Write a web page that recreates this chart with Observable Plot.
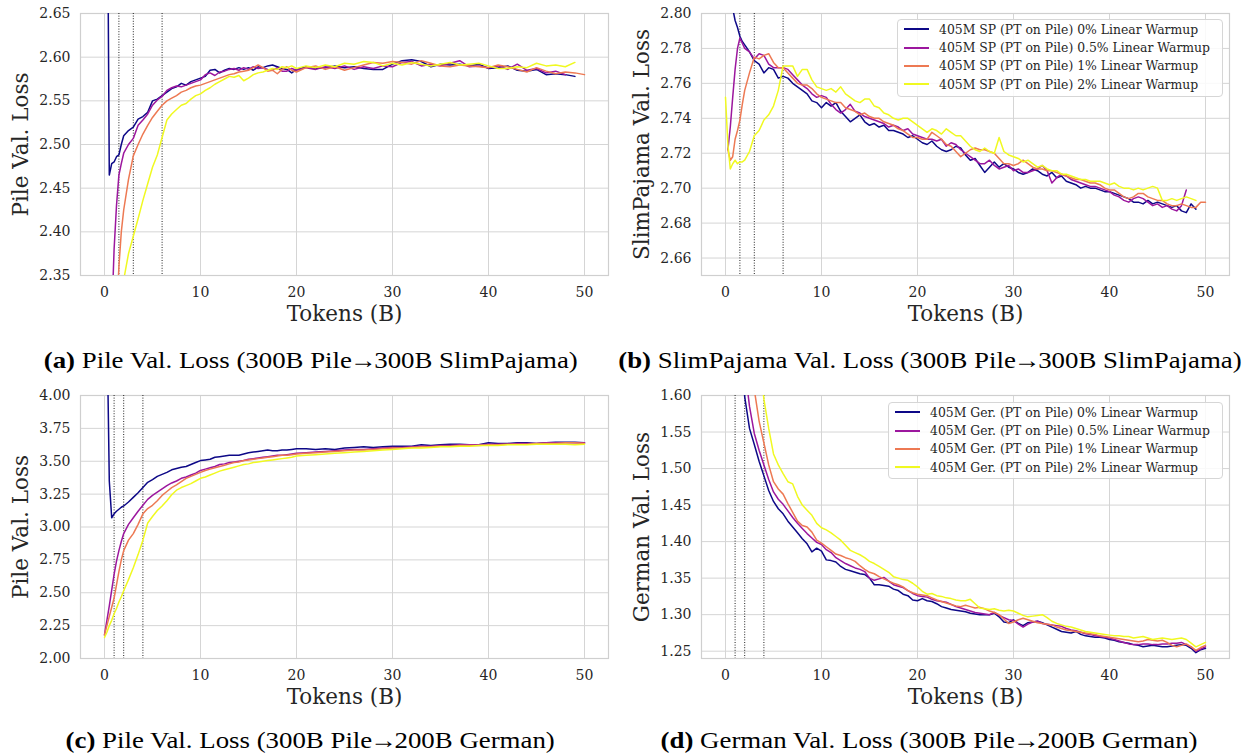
<!DOCTYPE html>
<html>
<head>
<meta charset="utf-8">
<script src="https://cdn.jsdelivr.net/npm/d3@7"></script>
<script src="https://cdn.jsdelivr.net/npm/@observablehq/plot@0.6"></script>
<style>
  html, body { margin: 0; padding: 0; background: #fff; }
  body { width: 1242px; height: 756px; position: relative; overflow: hidden; }
  .panel { position: absolute; }
  .cap { position: absolute; width: 621px; text-align: center; font-family: "Liberation Serif", "Times New Roman", serif; font-size: 23.5px; line-height: 25px; color: #000; white-space: nowrap; }
  .cap .inner { display: inline-block; transform-origin: 50% 50%; }
  .cap .arr { display: inline-block; margin: 0 -2px; }
  .legend { position: absolute; box-sizing: border-box; border: 1px solid #d6d6d6; border-radius: 4px; background: rgba(255,255,255,0.85); font-family: "DejaVu Serif", serif; font-size: 12.4px; color: #262626; padding-top: 0px; }
  .legend .row { display: flex; align-items: center; height: 18.4px; white-space: nowrap; }
  .legend .sw { display: inline-block; width: 25px; height: 0; border-top: 2px solid; margin-left: 6px; margin-right: 10px; }
</style>
</head>
<body>
<div id="pa" class="panel" style="left:0px; top:0px"></div>
<div id="pb" class="panel" style="left:621px; top:0px"></div>
<div id="pc" class="panel" style="left:0px; top:382px"></div>
<div id="pd" class="panel" style="left:621px; top:382px"></div>
<div class="cap" style="left:0px; top:348px"><span class="inner"><b>(a)</b> Pile Val. Loss (300B Pile<span class="arr">→</span>300B SlimPajama)</span></div>
<div class="cap" style="left:619px; top:348px"><span class="inner"><b>(b)</b> SlimPajama Val. Loss (300B Pile<span class="arr">→</span>300B SlimPajama)</span></div>
<div class="cap" style="left:0px; top:728px"><span class="inner"><b>(c)</b> Pile Val. Loss (300B Pile<span class="arr">→</span>200B German)</span></div>
<div class="cap" style="left:619px; top:728px"><span class="inner"><b>(d)</b> German Val. Loss (300B Pile<span class="arr">→</span>200B German)</span></div>
<div id="legB" class="legend" style="left:897px; top:19px; width:326px; height:78px"></div>
<div id="legD" class="legend" style="left:888px; top:402px; width:335px; height:77px"></div>
<script>
// ---------- shared ----------
const xTicks = [0, 10, 20, 30, 40, 50];
const colors = ["#0d0887", "#9c179e", "#ed7953", "#f0f921"];
const warmups = ["0%", "0.5%", "1%", "2%"];
const spNames = ["405M SP (PT on Pile) 0% Linear Warmup", "405M SP (PT on Pile) 0.5% Linear Warmup", "405M SP (PT on Pile) 1% Linear Warmup", "405M SP (PT on Pile) 2% Linear Warmup"];
const gerNames = ["405M Ger. (PT on Pile) 0% Linear Warmup", "405M Ger. (PT on Pile) 0.5% Linear Warmup", "405M Ger. (PT on Pile) 1% Linear Warmup", "405M Ger. (PT on Pile) 2% Linear Warmup"];
const warmupEndsSP = [1.5, 3, 6];
const warmupEndsGer = [1, 2, 4];

// token grids (B)
const gridCoarse = [0,0.25,0.5,0.75,1,1.25,1.5,1.75,2,
  2.5,3,3.5,4,4.5,5,5.5,6,6.5,7,
  7.5,8,8.5,9,9.5,10,10.5,11,11.5,12,
  12.5,13,13.5,14,14.5,15,15.5,16,16.5,17,
  17.5,18,18.5,19,19.5,20,
  21,22,23,24,25,26,27,28,29,30,
  31,32,33,34,35,36,37,38,39,40,
  41,42,43,44,45,46,47,48,49,50];
const gridFine = [0,0.25,0.5,0.75,1,1.25,1.5,1.75,2,
  2.5,3,3.5,4,4.5,5,5.5,6,6.5,7,
  7.5,8,8.5,9,9.5,10,10.5,11,11.5,12,
  12.5,13,13.5,14,14.5,15,15.5,16,16.5,17,
  17.5,18,18.5,19,19.5,20,20.5,21,21.5,22,
  22.5,23,23.5,24,24.5,25,25.5,26,26.5,27,
  27.5,28,28.5,29,29.5,30,30.5,31,31.5,32,
  32.5,33,33.5,34,34.5,35,35.5,36,36.5,37,
  37.5,38,38.5,39,39.5,40,40.5,41,41.5,42,
  42.5,43,43.5,44,44.5,45,45.5,46,46.5,47,
  47.5,48,48.5,49,49.5,50];

// ---------- (a) Pile val loss, SlimPajama continual ----------
const aTicks = [2.35, 2.40, 2.45, 2.50, 2.55, 2.60, 2.65];
const aW0 = [null,2.90,2.465,2.478,2.480,2.486,2.488,2.500,2.510,
  2.516,2.520,2.529,2.532,2.537,2.550,2.552,2.556,2.560,2.564,
  2.566,2.570,2.568,2.572,2.574,2.576,2.578,2.585,2.586,2.582,
  2.585,2.587,2.586,2.588,2.586,2.588,2.585,2.589,2.588,2.590,
  2.591,2.589,2.587,2.586,2.582,2.586,
  2.589,2.587,2.588,2.590,2.588,2.589,2.587,2.586,2.586,2.592,
  2.596,2.597,2.595,2.589,2.592,2.591,2.592,2.590,2.592,2.587,
  2.588,2.590,2.585,2.584,2.586,2.580,2.581,2.580,2.578,null];
const aW05 = [null,null,null,2.30,2.38,2.43,2.465,2.478,2.490,
  2.500,2.507,2.522,2.528,2.535,2.545,2.551,2.555,2.562,2.565,
  2.567,2.566,2.568,2.570,2.572,2.574,2.580,2.582,2.579,2.583,
  2.584,2.586,2.587,2.585,2.588,2.586,2.589,2.587,2.588,2.586,
  2.585,2.588,2.584,2.584,2.587,2.585,
  2.588,2.586,2.589,2.587,2.590,2.586,2.589,2.587,2.590,2.589,
  2.594,2.595,2.590,2.592,2.590,2.593,2.596,2.589,2.590,2.588,
  2.590,2.586,2.592,2.585,2.587,2.582,2.584,2.580,null,null];
const aW1 = [null,null,null,null,null,2.30,2.36,2.40,2.425,
  2.460,2.487,2.500,2.512,2.522,2.531,2.538,2.545,2.550,2.553,
  2.556,2.560,2.562,2.565,2.567,2.568,2.570,2.572,2.574,2.576,
  2.578,2.580,2.581,2.583,2.584,2.585,2.588,2.591,2.588,2.584,
  2.585,2.581,2.586,2.589,2.585,2.583,
  2.588,2.590,2.586,2.589,2.585,2.588,2.591,2.594,2.593,2.595,
  2.594,2.592,2.596,2.593,2.590,2.589,2.591,2.590,2.589,2.588,
  2.591,2.589,2.586,2.583,2.588,2.584,2.581,2.583,2.582,2.580];
const aW2 = [null,null,null,null,null,null,null,null,2.345,
  2.375,2.395,2.415,2.436,2.455,2.474,2.488,2.508,2.528,2.535,
  2.540,2.545,2.547,2.552,2.556,2.558,2.562,2.565,2.569,2.572,
  2.575,2.578,2.577,2.579,2.573,2.576,2.580,2.582,2.583,2.585,
  2.587,2.586,2.589,2.588,2.590,2.587,
  2.590,2.588,2.591,2.589,2.593,2.592,2.595,2.594,2.590,2.593,
  2.591,2.594,2.592,2.590,2.592,2.594,2.591,2.592,2.593,2.590,
  2.587,2.587,2.589,2.588,2.593,2.590,2.591,2.589,2.594,null];

// ---------- (b) SlimPajama val loss ----------
const bTicks = [2.66, 2.68, 2.70, 2.72, 2.74, 2.76, 2.78, 2.80];
const bW0 = [null,null,2.83,2.803,2.796,2.792,2.787,2.784,2.782,
  2.778,2.773,2.771,2.766,2.769,2.768,2.763,2.764,2.763,2.760,
  2.758,2.756,2.754,2.750,2.749,2.746,2.749,2.747,2.749,2.744,
  2.741,2.738,2.740,2.742,2.738,2.736,2.737,2.735,2.736,2.733,
  2.733,2.732,2.731,2.729,2.730,2.728,2.726,2.725,2.727,2.724,
  2.722,2.721,2.722,2.724,2.723,2.719,2.716,2.717,2.713,2.709,
  2.712,2.715,2.712,2.714,2.712,2.711,2.709,2.708,2.709,2.711,
  2.710,2.708,2.707,2.709,2.706,2.707,2.704,2.703,2.702,2.700,
  2.701,2.700,2.700,2.699,2.698,2.698,2.697,2.696,2.695,2.694,
  2.692,2.692,2.691,2.693,2.691,2.692,2.691,2.690,2.689,2.690,
  2.687,2.686,2.691,2.688,null,null];
const bW05 = [null,2.722,2.735,2.752,2.768,2.780,2.786,2.783,2.780,
  2.778,2.774,2.777,2.776,2.771,2.769,2.769,2.769,2.768,2.765,
  2.762,2.759,2.757,2.754,2.752,2.753,2.752,2.748,2.745,2.743,
  2.745,2.748,2.744,2.743,2.741,2.740,2.739,2.738,2.737,2.735,
  2.736,2.735,2.733,2.734,2.731,2.730,2.729,2.728,2.728,2.727,
  2.728,2.724,2.726,2.725,2.722,2.720,2.718,2.716,2.714,2.714,
  2.716,2.713,2.711,2.712,2.713,2.710,2.711,2.709,2.709,2.710,
  2.711,2.713,2.710,2.703,2.706,2.708,2.707,2.705,2.704,2.703,
  2.702,2.701,2.701,2.700,2.699,2.698,2.696,2.695,2.693,2.692,
  2.694,2.695,2.694,2.692,2.690,2.691,2.689,2.690,2.688,2.687,
  2.690,2.699,null,null,null,null];
const bW1 = [null,2.722,2.716,2.718,2.728,2.733,2.739,2.748,2.756,
  2.766,2.775,2.774,2.776,2.777,2.772,2.769,2.769,2.766,2.763,
  2.760,2.759,2.759,2.757,2.754,2.752,2.751,2.750,2.749,2.749,
  2.746,2.745,2.744,2.742,2.743,2.741,2.740,2.740,2.738,2.737,
  2.736,2.734,2.733,2.731,2.729,2.729,2.728,2.728,2.732,2.730,
  2.728,2.725,2.724,2.721,2.718,2.720,2.722,2.723,2.722,2.722,
  2.721,2.720,2.717,2.714,2.714,2.713,2.714,2.716,2.714,2.712,
  2.711,2.711,2.710,2.710,2.709,2.708,2.707,2.706,2.705,2.705,
  2.704,2.703,2.703,2.702,2.700,2.699,2.699,2.697,2.695,2.694,
  2.695,2.697,2.697,2.695,2.694,2.693,2.693,2.691,2.690,2.690,
  2.691,2.690,2.689,2.689,2.692,2.692];
const bW2 = [2.752,2.725,2.711,2.714,2.716,2.714,2.715,2.715,2.716,
  2.721,2.730,2.733,2.739,2.742,2.747,2.756,2.770,2.770,2.770,
  2.764,2.768,2.768,2.762,2.758,2.757,2.756,2.757,2.755,2.758,
  2.754,2.752,2.750,2.749,2.751,2.751,2.747,2.746,2.743,2.742,
  2.740,2.739,2.740,2.740,2.738,2.736,2.734,2.732,2.734,2.733,
  2.731,2.734,2.732,2.730,2.730,2.727,2.724,2.722,2.721,2.723,
  2.721,2.720,2.729,2.721,2.719,2.718,2.717,2.715,2.716,2.714,
  2.712,2.713,2.711,2.710,2.710,2.708,2.708,2.707,2.706,2.705,
  2.705,2.704,2.704,2.704,2.703,2.702,2.703,2.701,2.700,2.700,
  2.699,2.700,2.699,2.700,2.701,2.700,2.693,2.693,2.694,2.693,
  2.694,2.695,2.694,2.693,null,null];

// ---------- (c) Pile val loss, German continual ----------
const cTicks = [2.00, 2.25, 2.50, 2.75, 3.00, 3.25, 3.50, 3.75, 4.00];
const cW0 = [null,4.6,3.35,3.07,3.10,3.12,3.135,3.15,3.16,
  3.19,3.225,3.26,3.30,3.34,3.36,3.385,3.40,3.415,3.435,
  3.445,3.455,3.46,3.475,3.49,3.505,3.51,3.515,3.53,3.535,
  3.54,3.545,3.545,3.545,3.555,3.565,3.57,3.575,3.58,3.585,
  3.58,3.58,3.585,3.585,3.59,3.595,
  3.595,3.59,3.595,3.59,3.6,3.605,3.61,3.605,3.61,3.615,
  3.615,3.615,3.625,3.62,3.625,3.63,3.63,3.625,3.625,3.64,
  3.635,3.635,3.64,3.64,3.635,3.64,3.645,3.645,3.645,3.64];
const cW05 = [2.18,2.29,2.40,2.52,2.64,2.74,2.82,2.89,2.95,
  3.02,3.07,3.12,3.165,3.21,3.24,3.265,3.29,3.315,3.335,
  3.35,3.37,3.38,3.395,3.41,3.43,3.44,3.45,3.46,3.475,
  3.48,3.49,3.495,3.5,3.505,3.515,3.52,3.525,3.53,3.535,
  3.54,3.545,3.545,3.55,3.555,3.56,
  3.565,3.57,3.575,3.58,3.585,3.59,3.59,3.595,3.6,3.605,
  3.605,3.61,3.615,3.615,3.62,3.62,3.625,3.625,3.625,3.63,
  3.63,3.63,3.635,3.635,3.635,3.64,3.64,3.64,3.64,3.64];
const cW1 = [2.18,2.25,2.32,2.39,2.46,2.56,2.66,2.75,2.82,
  2.90,2.95,3.02,3.10,3.14,3.165,3.20,3.24,3.27,3.30,
  3.32,3.345,3.37,3.385,3.40,3.415,3.43,3.44,3.45,3.46,
  3.47,3.48,3.49,3.495,3.505,3.51,3.515,3.52,3.525,3.53,
  3.535,3.54,3.545,3.545,3.55,3.555,
  3.56,3.565,3.57,3.575,3.58,3.585,3.585,3.59,3.595,3.6,
  3.6,3.605,3.61,3.61,3.615,3.615,3.62,3.62,3.62,3.625,
  3.625,3.63,3.63,3.63,3.635,3.635,3.635,3.64,3.64,3.635];
const cW2 = [2.16,2.20,2.25,2.29,2.34,2.38,2.43,2.47,2.515,
  2.60,2.69,2.79,2.90,3.03,3.08,3.125,3.16,3.20,3.245,
  3.28,3.30,3.315,3.33,3.35,3.37,3.38,3.395,3.41,3.425,
  3.435,3.445,3.455,3.465,3.475,3.48,3.49,3.495,3.50,3.505,
  3.51,3.515,3.52,3.525,3.53,3.54,
  3.545,3.55,3.555,3.56,3.565,3.57,3.575,3.58,3.585,3.59,
  3.595,3.6,3.6,3.605,3.61,3.61,3.615,3.615,3.62,3.62,
  3.62,3.625,3.625,3.625,3.63,3.63,3.63,3.63,3.625,3.63];

// ---------- (d) German val loss ----------
const dTicks = [1.25, 1.30, 1.35, 1.40, 1.45, 1.50, 1.55, 1.60];
const dW0 = [null,null,null,null,null,null,null,1.65,1.598,
  1.555,1.533,1.510,1.490,1.470,1.455,1.445,1.438,1.428,1.420,
  1.412,1.404,1.397,1.386,1.391,1.387,1.375,1.374,1.372,1.366,
  1.362,1.360,1.358,1.356,1.355,1.350,1.341,1.341,1.340,1.339,
  1.335,1.333,1.328,1.326,1.320,1.319,1.322,1.319,1.318,1.315,
  1.311,1.309,1.307,1.306,1.305,1.304,1.302,1.301,1.300,1.300,
  1.300,1.302,1.297,1.290,1.289,1.293,1.288,1.285,1.289,1.290,
  1.291,1.289,1.286,1.283,1.280,1.277,1.276,1.275,1.277,1.273,
  1.271,1.270,1.269,1.269,1.268,1.266,1.265,1.263,1.262,1.261,
  1.259,1.258,1.256,1.257,1.258,1.257,1.256,1.256,1.257,1.258,
  1.259,1.258,1.254,1.248,1.252,1.254];
const dW05 = [null,null,null,null,null,null,null,null,1.64,
  1.585,1.548,1.525,1.505,1.485,1.468,1.458,1.451,1.442,1.433,
  1.425,1.418,1.411,1.405,1.399,1.396,1.389,1.385,1.378,1.374,
  1.370,1.367,1.364,1.362,1.359,1.350,1.347,1.349,1.351,1.346,
  1.341,1.339,1.337,1.333,1.329,1.326,1.325,1.324,1.321,1.319,
  1.318,1.317,1.314,1.311,1.309,1.307,1.305,1.303,1.302,1.301,
  1.300,1.303,1.299,1.296,1.293,1.292,1.287,1.283,1.287,1.290,
  1.291,1.288,1.287,1.286,1.285,1.284,1.281,1.279,1.278,1.276,
  1.274,1.273,1.271,1.270,1.269,1.268,1.266,1.264,1.262,1.260,
  1.259,1.259,1.260,1.260,1.259,1.259,1.260,1.260,1.261,1.261,
  1.262,1.259,1.256,1.250,1.253,1.256];
const dW1 = [null,null,null,null,null,null,null,null,null,
  1.68,1.608,1.565,1.535,1.505,1.482,1.472,1.465,1.452,1.440,
  1.428,1.422,1.420,1.413,1.402,1.398,1.393,1.388,1.383,1.381,
  1.378,1.376,1.373,1.367,1.362,1.358,1.356,1.352,1.349,1.346,
  1.343,1.341,1.338,1.333,1.330,1.328,1.327,1.326,1.323,1.320,
  1.318,1.316,1.314,1.312,1.311,1.313,1.311,1.309,1.310,1.308,
  1.305,1.303,1.300,1.294,1.288,1.290,1.293,1.295,1.293,1.291,
  1.289,1.288,1.287,1.286,1.283,1.281,1.279,1.278,1.277,1.276,
  1.275,1.274,1.273,1.271,1.270,1.269,1.268,1.267,1.266,1.265,
  1.264,1.263,1.264,1.266,1.265,1.264,1.265,1.262,1.258,1.256,
  1.258,1.260,1.256,1.251,1.255,1.258];
const dW2 = [null,null,null,null,null,null,null,null,null,
  null,null,1.66,1.595,1.555,1.520,1.505,1.493,1.482,1.479,
  1.462,1.450,1.443,1.436,1.425,1.419,1.416,1.412,1.407,1.402,
  1.395,1.388,1.385,1.382,1.378,1.373,1.370,1.366,1.362,1.358,
  1.352,1.350,1.348,1.347,1.343,1.338,1.332,1.328,1.329,1.326,
  1.325,1.323,1.322,1.320,1.319,1.319,1.321,1.315,1.309,1.308,
  1.307,1.308,1.306,1.305,1.306,1.305,1.302,1.299,1.297,1.298,
  1.299,1.300,1.296,1.291,1.288,1.286,1.284,1.283,1.281,1.279,
  1.277,1.276,1.275,1.274,1.273,1.272,1.271,1.271,1.270,1.270,
  1.268,1.269,1.270,1.268,1.266,1.267,1.268,1.267,1.266,1.267,
  1.268,1.266,1.261,1.256,1.259,1.262];

// ---------- drawing ----------
const TEXT = "#262626";
const GRID = "#d5d5d5";
const FONT = "DejaVu Serif";

function panel(el, cfg) {
  const rows = [];
  cfg.series.forEach((vals, i) => {
    vals.forEach((v, j) => {
      if (v !== null) rows.push({tokens: cfg.grid[j], loss: v, run: warmups[i]});
    });
  });
  const svg = Plot.plot({
    width: 621,
    height: cfg.height,
    marginLeft: 80,
    marginRight: 13,
    marginTop: 13,
    marginBottom: 60,
    style: "font-family: 'DejaVu Serif', serif; font-size: 14px; color: #262626; background: transparent; overflow: visible;",
    x: {domain: [-2.5, 52.5]},
    y: {domain: cfg.yDomain},
    color: {domain: warmups, range: colors},
    marks: [
      Plot.gridX(xTicks, {stroke: GRID, strokeOpacity: 1, strokeWidth: 1}),
      Plot.gridY(cfg.yTicks, {stroke: GRID, strokeOpacity: 1, strokeWidth: 1}),
      Plot.frame({stroke: "#cfcfcf", strokeWidth: 1.2}),
      Plot.ruleX(cfg.rules, {stroke: "#222", strokeWidth: 1, strokeDasharray: "1,1.6"}),
      Plot.line(rows, {x: "tokens", y: "loss", z: "run", stroke: "run", strokeWidth: 1.5, clip: true}),
      Plot.axisX(xTicks, {tickSize: 0, tickPadding: 12, label: null, fill: TEXT, fontFamily: FONT, fontSize: 14}),
      Plot.axisY(cfg.yTicks, {tickSize: 0, tickPadding: 10, tickFormat: ".2f", label: null, fill: TEXT, fontFamily: FONT, fontSize: 14}),
      Plot.text([cfg.xLabel], {text: d => d, frameAnchor: "bottom", lineAnchor: "middle", textAnchor: "middle", dy: 39, fontSize: 21.5, fontFamily: FONT, fill: TEXT}),
      Plot.text([cfg.yLabel], {text: d => d, frameAnchor: "left", lineAnchor: "middle", textAnchor: "middle", dx: -59.5, rotate: -90, fontSize: 21.5, fontFamily: FONT, fill: TEXT})
    ]
  });
  document.getElementById(el).append(svg);
}

panel("pa", {grid: gridCoarse, series: [aW0, aW05, aW1, aW2], yDomain: [2.35, 2.65], yTicks: aTicks, rules: warmupEndsSP, yLabel: "Pile Val. Loss", xLabel: "Tokens (B)", height: 335});
panel("pb", {grid: gridFine, series: [bW0, bW05, bW1, bW2], yDomain: [2.65, 2.80], yTicks: bTicks, rules: warmupEndsSP, yLabel: "SlimPajama Val. Loss", xLabel: "Tokens (B)", height: 335});
panel("pc", {grid: gridCoarse, series: [cW0, cW05, cW1, cW2], yDomain: [2.0, 4.0], yTicks: cTicks, rules: warmupEndsGer, yLabel: "Pile Val. Loss", xLabel: "Tokens (B)", height: 336});
panel("pd", {grid: gridFine, series: [dW0, dW05, dW1, dW2], yDomain: [1.24, 1.60], yTicks: dTicks, rules: warmupEndsGer, yLabel: "German Val. Loss", xLabel: "Tokens (B)", height: 336});

function legend(id, names) {
  const box = document.getElementById(id);
  names.forEach((n, i) => {
    const row = document.createElement("div");
    row.className = "row";
    const sw = document.createElement("span");
    sw.className = "sw";
    sw.style.borderTopColor = colors[i];
    const tx = document.createElement("span");
    tx.textContent = n;
    row.append(sw, tx);
    box.append(row);
  });
}
legend("legB", spNames);
legend("legD", gerNames);

// captions: the reference's caption type is set slightly wide; stretch to match
const capTargetWidthA = 534;
const inners = document.querySelectorAll(".cap .inner");
const wA = inners[0].getBoundingClientRect().width;
const sx = capTargetWidthA / wA;
inners.forEach(el => { el.style.transform = `scaleX(${sx})`; });
</script>
</body>
</html>
